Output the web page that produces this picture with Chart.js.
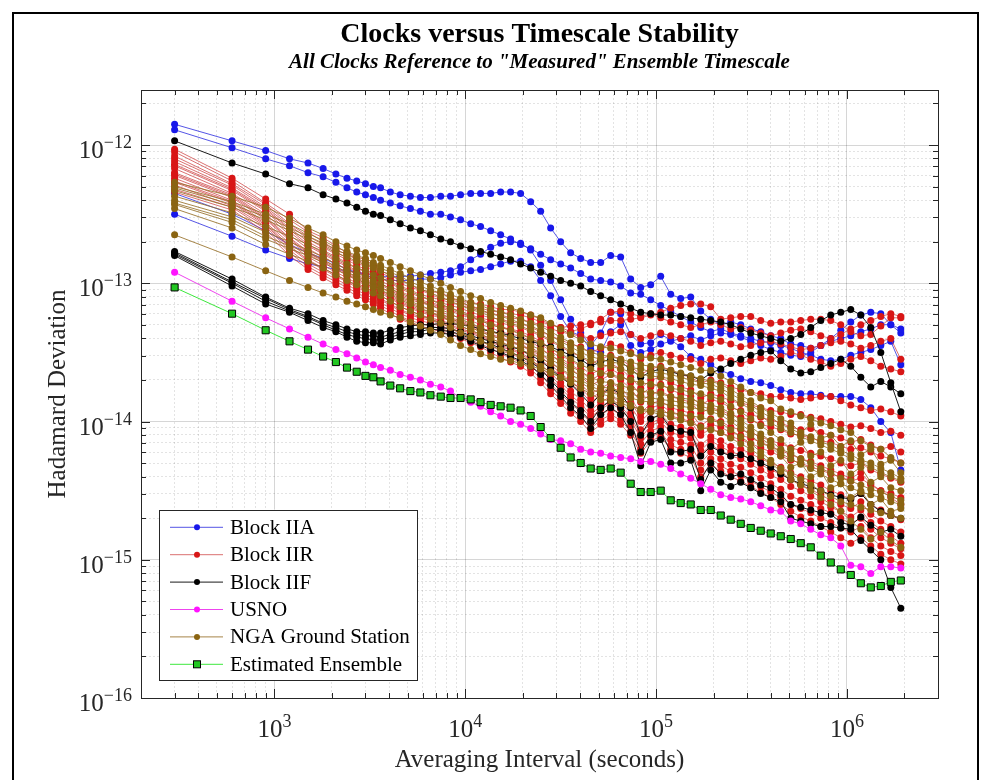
<!DOCTYPE html>
<html lang="en">
<head>
  <meta charset="UTF-8">
  <title>Clocks versus Timescale Stability</title>
  <script src="https://cdn.jsdelivr.net/npm/chart.js"></script>
  <style>
    html, body { margin: 0; padding: 0; background: #fff; }
    canvas { display: block; }
  </style>
</head>
<body>
  <canvas id="stabilityChart" width="991" height="780"></canvas>

  <script>
    // Averaging intervals (seconds) shared by every curve
    const tau = [300, 600, 900, 1200, 1500, 1800, 2100, 2400, 2700, 3000, 3300, 3600,
      4050, 4560, 5160, 5820, 6570, 7440, 8370, 9450, 10680, 12030, 13590, 15330,
      17280, 19500, 22020, 24840, 28020, 31620, 35670, 40260, 45420, 51240, 57810, 65220,
      73590, 83040, 93690, 105720, 119280, 134580, 151860, 171330, 193320, 218100, 246090, 277680,
      313200, 353400, 398700, 450000, 507600, 572700, 646200, 729300, 822600, 928200, 1047300, 1182300,
      1333200, 1504500, 1697400, 1915200];

    // Hadamard deviation curves, stored as log10 of the value
    // Block IIA
    const iia1 = [-11.85,-11.97,-12.04,-12.10,-12.13,-12.17,-12.21,-12.24, -12.26,-12.28,-12.30,-12.31,-12.34,-12.36,-12.37,-12.38,
      -12.38,-12.37,-12.37,-12.36,-12.35,-12.35,-12.35,-12.34, -12.34,-12.35,-12.41,-12.48,-12.60,-12.70,-12.78,-12.82,
      -12.85,-12.85,-12.80,-12.81,-12.97,-13.03,-13.01,-12.95, -13.08,-13.11,-13.10,-13.20,-13.26,-13.30,-13.28,-13.30,
      -13.33,-13.35,-13.38,-13.40,-13.44,-13.45,-13.47,-13.45, -13.42,-13.40,-13.38,-13.35,-13.33,-13.30,-13.30,-13.33];
    const iia2 = [-11.89,-12.02,-12.10,-12.15,-12.20,-12.23,-12.27,-12.31, -12.34,-12.36,-12.38,-12.40,-12.42,-12.44,-12.46,-12.48,
      -12.50,-12.50,-12.52,-12.54,-12.57,-12.59,-12.62,-12.65, -12.68,-12.72,-12.75,-12.79,-12.83,-12.86,-12.89,-12.93,
      -12.97,-12.98,-12.99,-13.02,-13.07,-13.08,-13.12,-13.16, -13.20,-13.24,-13.28,-13.32,-13.35,-13.33,-13.36,-13.38,
      -13.40,-13.42,-13.43,-13.45,-13.47,-13.50,-13.52,-13.55, -13.56,-13.55,-13.52,-13.50,-13.48,-13.45,-13.42,-13.59];
    const iia3 = [-12.50,-12.66,-12.76,-12.82,-12.86,-12.88,-12.90,-12.91, -12.92,-12.93,-12.94,-12.95,-12.95,-12.95,-12.95,-12.94,
      -12.93,-12.92,-12.91,-12.88,-12.83,-12.79,-12.74,-12.71, -12.70,-12.71,-12.76,-12.87,-12.98,-13.12,-13.26,-13.36,
      -13.45,-13.36,-13.21,-13.22,-13.37,-13.44,-13.43,-13.37, -13.41,-13.46,-13.53,-13.55,-13.59,-13.63,-13.66,-13.69,
      -13.71,-13.72,-13.74,-13.77,-13.79,-13.80,-13.80,-13.81, -13.82,-13.82,-13.82,-13.84,-13.90,-14.00,-14.08,-14.35];
    const iia4 = [-12.35,-12.50,-12.62,-12.72,-12.78,-12.82,-12.86,-12.90, -12.92,-12.94,-12.96,-12.97,-12.98,-12.98,-12.98,-12.97,
      -12.97,-12.96,-12.94,-12.92,-12.91,-12.90,-12.88,-12.86, -12.84,-12.84,-12.88,-12.98,-13.09,-13.24,-13.35,-13.38,
      -13.48,-13.50,-13.35,-13.30,-13.45,-13.50,-13.48,-13.44, -13.42,-13.40,-13.38,-13.41,-13.38,-13.36,-13.37,-13.39,
      -13.42,-13.45,-13.48,-13.50,-13.52,-13.53,-13.50,-13.45, -13.40,-13.34,-13.28,-13.23,-13.21,-13.22,-13.30,-13.36];

    // Block IIR
    const iir1 = [-12.03,-12.24,-12.39,-12.50,-12.62,-12.67,-12.73,-12.78, -12.81,-12.83,-12.87,-12.91,-12.94,-12.97,-13.01,-13.05,
      -13.06,-13.07,-13.10,-13.13,-13.14,-13.15,-13.17,-13.19, -13.19,-13.21,-13.23,-13.26,-13.30,-13.32,-13.31,-13.30,
      -13.29,-13.28,-13.27,-13.27,-13.26,-13.25,-13.23,-13.21, -13.18,-13.16,-13.15,-13.15,-13.17,-13.26,-13.25,-13.24,
      -13.24,-13.27,-13.29,-13.28,-13.28,-13.27,-13.26,-13.26, -13.27,-13.30,-13.35,-13.38,-13.37,-13.31,-13.25,-13.25];
    const iir2 = [-12.05,-12.26,-12.42,-12.54,-12.63,-12.70,-12.76,-12.79, -12.83,-12.86,-12.88,-12.92,-12.96,-13.00,-13.03,-13.05,
      -13.08,-13.11,-13.12,-13.14,-13.17,-13.18,-13.20,-13.21, -13.22,-13.23,-13.25,-13.28,-13.30,-13.32,-13.35,-13.33,
      -13.30,-13.26,-13.21,-13.20,-13.22,-13.24,-13.22,-13.25, -13.28,-13.30,-13.32,-13.30,-13.28,-13.30,-13.33,-13.32,
      -13.34,-13.36,-13.38,-13.36,-13.34,-13.33,-13.35,-13.38, -13.40,-13.37,-13.33,-13.30,-13.27,-13.24,-13.22,-13.24];
    const iir3 = [-12.08,-12.28,-12.43,-12.57,-12.66,-12.72,-12.77,-12.82, -12.85,-12.88,-12.91,-12.94,-12.98,-13.02,-13.05,-13.08,
      -13.10,-13.12,-13.14,-13.16,-13.18,-13.20,-13.22,-13.23, -13.25,-13.26,-13.28,-13.30,-13.33,-13.35,-13.37,-13.38,
      -13.40,-13.38,-13.36,-13.35,-13.37,-13.40,-13.38,-13.36, -13.38,-13.40,-13.42,-13.45,-13.43,-13.42,-13.44,-13.46,
      -13.45,-13.43,-13.42,-13.44,-13.46,-13.48,-13.47,-13.45, -13.43,-13.42,-13.44,-13.47,-13.45,-13.42,-13.40,-13.55];
    const iir4 = [-12.10,-12.29,-12.45,-12.58,-12.68,-12.74,-12.79,-12.83, -12.87,-12.90,-12.93,-12.96,-13.00,-13.04,-13.07,-13.10,
      -13.12,-13.14,-13.16,-13.18,-13.21,-13.23,-13.25,-13.26, -13.28,-13.29,-13.32,-13.35,-13.38,-13.41,-13.44,-13.46,
      -13.50,-13.47,-13.44,-13.46,-13.50,-13.55,-13.52,-13.50, -13.52,-13.54,-13.55,-13.58,-13.55,-13.54,-13.56,-13.58,
      -13.56,-13.54,-13.55,-13.53,-13.50,-13.52,-13.55,-13.57, -13.60,-13.58,-13.55,-13.53,-13.56,-13.60,-13.62,-13.64];
    const iir5 = [-12.12,-12.31,-12.46,-12.60,-12.70,-12.76,-12.81,-12.85, -12.89,-12.92,-12.95,-12.98,-13.02,-13.06,-13.09,-13.12,
      -13.14,-13.16,-13.18,-13.20,-13.23,-13.25,-13.27,-13.29, -13.30,-13.32,-13.35,-13.38,-13.42,-13.46,-13.50,-13.53,
      -13.58,-13.55,-13.52,-13.55,-13.60,-13.66,-13.62,-13.60, -13.63,-13.66,-13.68,-13.72,-13.70,-13.72,-13.75,-13.77,
      -13.79,-13.80,-13.82,-13.82,-13.83,-13.84,-13.83,-13.82, -13.82,-13.85,-13.88,-13.90,-13.92,-13.91,-13.93,-13.96];
    const iir6 = [-12.15,-12.33,-12.48,-12.63,-12.73,-12.79,-12.84,-12.88, -12.92,-12.95,-12.98,-13.01,-13.05,-13.09,-13.12,-13.14,
      -13.16,-13.18,-13.20,-13.23,-13.25,-13.27,-13.30,-13.32, -13.33,-13.35,-13.38,-13.42,-13.47,-13.52,-13.56,-13.60,
      -13.66,-13.62,-13.58,-13.62,-13.68,-13.76,-13.70,-13.68, -13.72,-13.75,-13.77,-13.83,-13.80,-13.82,-13.85,-13.87,
      -13.88,-13.90,-13.92,-13.93,-13.95,-13.95,-13.97,-13.98, -14.00,-14.02,-14.04,-14.03,-14.05,-14.08,-14.07,-14.10];
    const iir7 = [-12.17,-12.35,-12.50,-12.65,-12.75,-12.81,-12.86,-12.90, -12.94,-12.97,-13.00,-13.03,-13.07,-13.11,-13.14,-13.17,
      -13.19,-13.21,-13.23,-13.25,-13.27,-13.30,-13.32,-13.35, -13.37,-13.38,-13.42,-13.47,-13.52,-13.57,-13.62,-13.67,
      -13.74,-13.70,-13.66,-13.70,-13.76,-13.86,-13.80,-13.78, -13.82,-13.84,-13.86,-13.94,-13.90,-13.92,-13.95,-13.97,
      -13.99,-14.02,-14.04,-14.06,-14.09,-14.10,-14.12,-14.14, -14.15,-14.18,-14.20,-14.19,-14.22,-14.25,-14.27,-14.30];
    const iir8 = [-12.20,-12.36,-12.52,-12.67,-12.77,-12.83,-12.88,-12.92, -12.96,-12.99,-13.02,-13.05,-13.09,-13.13,-13.16,-13.19,
      -13.21,-13.23,-13.25,-13.27,-13.30,-13.32,-13.35,-13.37, -13.40,-13.42,-13.46,-13.51,-13.57,-13.62,-13.68,-13.73,
      -13.80,-13.76,-13.72,-13.76,-13.83,-13.94,-13.87,-13.85, -13.90,-13.92,-13.94,-14.03,-13.98,-14.00,-14.04,-14.06,
      -14.08,-14.11,-14.14,-14.16,-14.19,-14.21,-14.23,-14.25, -14.27,-14.30,-14.32,-14.30,-14.35,-14.38,-14.41,-14.44];
    const iir9 = [-12.22,-12.38,-12.54,-12.69,-12.79,-12.85,-12.90,-12.94, -12.98,-13.01,-13.04,-13.07,-13.11,-13.15,-13.18,-13.21,
      -13.23,-13.25,-13.27,-13.29,-13.32,-13.35,-13.38,-13.40, -13.43,-13.45,-13.49,-13.55,-13.61,-13.67,-13.73,-13.78,
      -13.86,-13.81,-13.77,-13.81,-13.89,-14.00,-13.93,-13.90, -13.96,-13.98,-14.00,-14.10,-14.05,-14.08,-14.11,-14.13,
      -14.16,-14.19,-14.22,-14.25,-14.28,-14.30,-14.33,-14.35, -14.38,-14.40,-14.43,-14.41,-14.46,-14.50,-14.52,-14.55];
    const iir10 = [-12.24,-12.40,-12.56,-12.71,-12.81,-12.87,-12.92,-12.96, -13.00,-13.03,-13.06,-13.09,-13.13,-13.17,-13.20,-13.23,
      -13.25,-13.27,-13.29,-13.31,-13.34,-13.37,-13.40,-13.43, -13.45,-13.48,-13.53,-13.59,-13.65,-13.72,-13.78,-13.84,
      -13.92,-13.86,-13.82,-13.86,-13.94,-14.06,-13.98,-13.95, -14.02,-14.04,-14.06,-14.17,-14.11,-14.14,-14.18,-14.20,
      -14.23,-14.27,-14.30,-14.33,-14.37,-14.40,-14.43,-14.46, -14.50,-14.53,-14.56,-14.52,-14.60,-14.64,-14.68,-14.71];
    const iir11 = [-12.27,-12.42,-12.58,-12.74,-12.84,-12.90,-12.95,-12.99, -13.03,-13.06,-13.09,-13.12,-13.16,-13.20,-13.23,-13.25,
      -13.27,-13.29,-13.31,-13.34,-13.36,-13.39,-13.42,-13.46, -13.48,-13.51,-13.56,-13.62,-13.69,-13.76,-13.83,-13.89,
      -13.97,-13.91,-13.87,-13.91,-13.99,-14.12,-14.03,-14.00, -14.08,-14.10,-14.12,-14.24,-14.17,-14.21,-14.25,-14.27,
      -14.31,-14.35,-14.39,-14.42,-14.47,-14.50,-14.54,-14.58, -14.62,-14.65,-14.69,-14.64,-14.73,-14.78,-14.83,-14.88];
    const iir12 = [-12.29,-12.44,-12.59,-12.76,-12.86,-12.92,-12.97,-13.01, -13.05,-13.08,-13.11,-13.14,-13.18,-13.22,-13.25,-13.27,
      -13.29,-13.31,-13.33,-13.36,-13.39,-13.42,-13.45,-13.49, -13.51,-13.54,-13.59,-13.66,-13.73,-13.80,-13.87,-13.93,
      -14.01,-13.95,-13.91,-13.95,-14.03,-14.16,-14.07,-14.04, -14.13,-14.15,-14.17,-14.30,-14.22,-14.27,-14.31,-14.33,
      -14.37,-14.41,-14.45,-14.49,-14.54,-14.57,-14.60,-14.63, -14.66,-14.70,-14.74,-14.70,-14.78,-14.84,-14.88,-14.92];
    const iir13 = [-12.32,-12.45,-12.61,-12.78,-12.88,-12.94,-12.99,-13.03, -13.07,-13.10,-13.13,-13.16,-13.20,-13.24,-13.27,-13.29,
      -13.31,-13.33,-13.35,-13.38,-13.41,-13.44,-13.47,-13.51, -13.54,-13.57,-13.62,-13.69,-13.77,-13.84,-13.91,-13.97,
      -14.05,-13.99,-13.95,-13.99,-14.07,-14.20,-14.11,-14.08, -14.17,-14.20,-14.22,-14.35,-14.27,-14.32,-14.36,-14.39,
      -14.43,-14.47,-14.51,-14.55,-14.60,-14.63,-14.66,-14.70, -14.73,-14.77,-14.80,-14.76,-14.84,-14.90,-14.94,-14.97];
    const iir14 = [-12.34,-12.47,-12.63,-12.80,-12.90,-12.96,-13.01,-13.05, -13.09,-13.12,-13.15,-13.18,-13.22,-13.26,-13.29,-13.31,
      -13.33,-13.35,-13.37,-13.40,-13.43,-13.46,-13.50,-13.54, -13.57,-13.60,-13.65,-13.72,-13.80,-13.87,-13.94,-14.00,
      -14.08,-14.02,-13.98,-14.02,-14.10,-14.23,-14.14,-14.11, -14.20,-14.23,-14.26,-14.40,-14.31,-14.36,-14.40,-14.43,
      -14.47,-14.51,-14.55,-14.60,-14.65,-14.69,-14.72,-14.76, -14.80,-14.84,-14.88,-14.84,-14.90,-14.96,-15.00,-15.03];
    const iir15 = [-12.14,-12.32,-12.47,-12.61,-12.72,-12.78,-12.83,-12.87, -12.91,-12.94,-12.97,-13.00,-13.04,-13.08,-13.11,-13.13,
      -13.15,-13.17,-13.19,-13.22,-13.24,-13.26,-13.29,-13.31, -13.34,-13.36,-13.40,-13.44,-13.49,-13.54,-13.59,-13.63,
      -13.70,-13.66,-13.62,-13.66,-13.72,-13.81,-13.75,-13.73, -13.77,-13.80,-13.82,-13.88,-13.84,-13.86,-13.90,-13.92,
      -13.95,-13.97,-13.99,-14.01,-14.04,-14.06,-14.05,-14.08, -14.10,-14.12,-14.15,-14.13,-14.17,-14.20,-14.18,-14.22];
    const iir16 = [-12.21,-12.37,-12.53,-12.68,-12.78,-12.84,-12.89,-12.93, -12.97,-13.00,-13.03,-13.06,-13.10,-13.14,-13.17,-13.20,
      -13.22,-13.24,-13.26,-13.28,-13.31,-13.34,-13.37,-13.39, -13.42,-13.44,-13.48,-13.53,-13.59,-13.65,-13.71,-13.76,
      -13.83,-13.79,-13.75,-13.79,-13.86,-13.97,-13.90,-13.88, -13.93,-13.95,-13.97,-14.07,-14.02,-14.04,-14.08,-14.10,
      -14.12,-14.15,-14.18,-14.21,-14.24,-14.27,-14.29,-14.32, -14.35,-14.38,-14.41,-14.37,-14.45,-14.50,-14.55,-14.60];
    const iir17 = [-12.26,-12.41,-12.57,-12.73,-12.83,-12.89,-12.94,-12.98, -13.02,-13.05,-13.08,-13.11,-13.15,-13.19,-13.22,-13.24,
      -13.26,-13.28,-13.30,-13.33,-13.35,-13.38,-13.41,-13.45, -13.47,-13.50,-13.55,-13.61,-13.67,-13.74,-13.81,-13.87,
      -13.95,-13.89,-13.85,-13.89,-13.97,-14.09,-14.01,-13.98, -14.05,-14.07,-14.09,-14.21,-14.14,-14.18,-14.22,-14.24,
      -14.27,-14.31,-14.35,-14.38,-14.42,-14.46,-14.49,-14.53, -14.57,-14.60,-14.63,-14.58,-14.67,-14.72,-14.76,-14.80];

    // Block IIF
    const iif1 = [-11.97,-12.13,-12.21,-12.28,-12.31,-12.36,-12.39,-12.42, -12.45,-12.48,-12.50,-12.51,-12.54,-12.57,-12.60,-12.62,
      -12.65,-12.68,-12.70,-12.73,-12.75,-12.77,-12.79,-12.81, -12.83,-12.86,-12.89,-12.92,-12.95,-12.98,-13.00,-13.02,
      -13.06,-13.09,-13.12,-13.15,-13.18,-13.21,-13.22,-13.23, -13.23,-13.24,-13.25,-13.26,-13.27,-13.28,-13.30,-13.33,
      -13.36,-13.38,-13.40,-13.42,-13.40,-13.37,-13.32,-13.27, -13.23,-13.21,-13.19,-13.23,-13.32,-13.50,-13.72,-13.93];
    const iif2 = [-12.77,-12.97,-13.10,-13.18,-13.22,-13.27,-13.30,-13.33, -13.35,-13.35,-13.36,-13.36,-13.34,-13.32,-13.31,-13.30,
      -13.30,-13.29,-13.29,-13.30,-13.31,-13.33,-13.35,-13.36, -13.38,-13.40,-13.42,-13.44,-13.46,-13.49,-13.52,-13.55,
      -13.60,-13.57,-13.55,-13.57,-13.62,-13.68,-13.64,-13.62, -13.64,-13.66,-13.67,-13.70,-13.65,-13.62,-13.58,-13.55,
      -13.52,-13.50,-13.49,-13.56,-13.62,-13.65,-13.64,-13.61, -13.58,-13.55,-13.60,-13.68,-13.75,-13.71,-13.75,-13.80];
    const iif3 = [-12.78,-12.99,-13.11,-13.19,-13.24,-13.29,-13.32,-13.35, -13.37,-13.38,-13.38,-13.39,-13.37,-13.35,-13.33,-13.33,
      -13.32,-13.32,-13.33,-13.35,-13.38,-13.40,-13.42,-13.44, -13.46,-13.48,-13.52,-13.56,-13.62,-13.68,-13.73,-13.80,
      -13.88,-13.80,-13.76,-13.80,-13.90,-14.10,-13.98,-13.95, -14.05,-14.07,-14.08,-14.25,-14.18,-14.22,-14.25,-14.24,
      -14.27,-14.30,-14.33,-14.38,-14.42,-14.45,-14.47,-14.50, -14.53,-14.55,-14.56,-14.52,-14.60,-14.65,-14.68,-14.70];
    const iif4 = [-12.79,-13.00,-13.13,-13.20,-13.25,-13.30,-13.34,-13.37, -13.39,-13.40,-13.41,-13.41,-13.39,-13.37,-13.35,-13.35,
      -13.33,-13.34,-13.35,-13.37,-13.40,-13.42,-13.44,-13.47, -13.50,-13.53,-13.57,-13.62,-13.70,-13.78,-13.86,-13.92,
      -14.00,-13.90,-13.85,-13.90,-14.00,-14.22,-14.10,-14.07, -14.22,-14.22,-14.20,-14.42,-14.30,-14.38,-14.40,-14.38,
      -14.42,-14.46,-14.48,-14.53,-14.60,-14.62,-14.64,-14.66, -14.67,-14.73,-14.75,-14.69,-14.75,-14.80,-14.78,-14.83];
    const iif5 = [-12.80,-13.02,-13.15,-13.21,-13.27,-13.32,-13.35,-13.39, -13.42,-13.43,-13.43,-13.44,-13.41,-13.39,-13.38,-13.37,
      -13.36,-13.36,-13.37,-13.39,-13.42,-13.45,-13.48,-13.50, -13.53,-13.56,-13.60,-13.66,-13.74,-13.82,-13.90,-13.96,
      -14.05,-13.95,-13.90,-13.95,-14.08,-14.32,-14.15,-14.13, -14.30,-14.30,-14.28,-14.50,-14.35,-14.44,-14.47,-14.44,
      -14.48,-14.52,-14.55,-14.58,-14.70,-14.72,-14.74,-14.76, -14.76,-14.77,-14.78,-14.86,-14.93,-15.00,-15.20,-15.35];

    // USNO
    const usno = [-12.92,-13.13,-13.25,-13.33,-13.39,-13.44,-13.48,-13.51, -13.54,-13.57,-13.59,-13.61,-13.63,-13.66,-13.68,-13.70,
      -13.73,-13.75,-13.78,-13.83,-13.86,-13.89,-13.93,-13.96, -14.00,-14.02,-14.05,-14.09,-14.13,-14.14,-14.16,-14.20,
      -14.22,-14.23,-14.25,-14.26,-14.27,-14.29,-14.29,-14.31, -14.34,-14.38,-14.41,-14.45,-14.49,-14.53,-14.55,-14.56,
      -14.58,-14.61,-14.64,-14.65,-14.72,-14.74,-14.78,-14.82, -14.84,-14.90,-15.04,-15.05,-15.10,-15.05,-15.05,-15.06];

    // NGA ground stations
    const nga1 = [-12.27,-12.37,-12.45,-12.53,-12.60,-12.65,-12.70,-12.73, -12.76,-12.78,-12.80,-12.82,-12.85,-12.88,-12.91,-12.94,
      -12.97,-13.00,-13.03,-13.06,-13.09,-13.11,-13.14,-13.16, -13.18,-13.20,-13.23,-13.25,-13.29,-13.33,-13.37,-13.41,
      -13.44,-13.46,-13.47,-13.49,-13.51,-13.53,-13.54,-13.55, -13.57,-13.59,-13.61,-13.63,-13.63,-13.67,-13.71,-13.75,
      -13.79,-13.83,-13.85,-13.91,-13.93,-13.96,-13.98,-14.01, -14.03,-14.06,-14.08,-14.14,-14.18,-14.20,-14.26,-14.30];
    const nga2 = [-12.30,-12.41,-12.50,-12.57,-12.64,-12.69,-12.74,-12.77, -12.80,-12.82,-12.85,-12.87,-12.90,-12.93,-12.96,-12.99,
      -13.02,-13.05,-13.08,-13.11,-13.14,-13.16,-13.19,-13.21, -13.23,-13.26,-13.29,-13.31,-13.35,-13.39,-13.43,-13.47,
      -13.50,-13.52,-13.53,-13.55,-13.57,-13.59,-13.60,-13.61, -13.63,-13.65,-13.67,-13.69,-13.71,-13.73,-13.77,-13.81,
      -13.85,-13.90,-13.94,-13.98,-14.01,-14.08,-14.02,-14.12, -14.10,-14.18,-14.14,-14.24,-14.20,-14.31,-14.28,-14.37];
    const nga3 = [-12.33,-12.45,-12.54,-12.62,-12.68,-12.73,-12.78,-12.81, -12.84,-12.87,-12.89,-12.91,-12.94,-12.98,-13.01,-13.04,
      -13.07,-13.10,-13.13,-13.16,-13.19,-13.21,-13.24,-13.27, -13.29,-13.31,-13.34,-13.37,-13.41,-13.45,-13.49,-13.53,
      -13.56,-13.59,-13.60,-13.62,-13.64,-13.66,-13.67,-13.68, -13.69,-13.71,-13.73,-13.74,-13.76,-13.78,-13.83,-13.87,
      -13.91,-13.96,-14.01,-14.05,-14.08,-14.11,-14.14,-14.17, -14.20,-14.23,-14.27,-14.30,-14.33,-14.37,-14.40,-14.43];
    const nga4 = [-12.37,-12.49,-12.59,-12.66,-12.72,-12.77,-12.82,-12.86, -12.89,-12.91,-12.94,-12.96,-12.99,-13.03,-13.06,-13.09,
      -13.12,-13.15,-13.18,-13.21,-13.24,-13.27,-13.30,-13.32, -13.34,-13.37,-13.40,-13.43,-13.47,-13.51,-13.55,-13.59,
      -13.62,-13.65,-13.66,-13.68,-13.70,-13.72,-13.73,-13.74, -13.76,-13.77,-13.79,-13.80,-13.82,-13.84,-13.89,-13.93,
      -13.98,-14.03,-14.08,-14.13,-14.20,-14.15,-14.25,-14.22, -14.32,-14.28,-14.38,-14.33,-14.44,-14.40,-14.48,-14.50];
    const nga5 = [-12.40,-12.52,-12.63,-12.70,-12.76,-12.81,-12.86,-12.90, -12.93,-12.95,-12.98,-13.00,-13.04,-13.07,-13.10,-13.13,
      -13.16,-13.19,-13.22,-13.26,-13.29,-13.32,-13.35,-13.37, -13.39,-13.42,-13.45,-13.48,-13.52,-13.56,-13.60,-13.64,
      -13.68,-13.71,-13.72,-13.74,-13.76,-13.78,-13.79,-13.80, -13.82,-13.83,-13.84,-13.86,-13.88,-13.90,-13.94,-13.99,
      -14.04,-14.09,-14.14,-14.20,-14.23,-14.27,-14.30,-14.34, -14.37,-14.41,-14.43,-14.46,-14.49,-14.51,-14.54,-14.57];
    const nga6 = [-12.43,-12.56,-12.68,-12.75,-12.80,-12.85,-12.90,-12.94, -12.97,-13.00,-13.03,-13.05,-13.08,-13.12,-13.15,-13.18,
      -13.21,-13.24,-13.27,-13.31,-13.34,-13.37,-13.40,-13.43, -13.45,-13.48,-13.51,-13.54,-13.58,-13.62,-13.66,-13.70,
      -13.74,-13.78,-13.79,-13.81,-13.83,-13.85,-13.86,-13.87, -13.88,-13.89,-13.90,-13.91,-13.93,-13.95,-14.00,-14.05,
      -14.10,-14.16,-14.18,-14.25,-14.33,-14.30,-14.40,-14.36, -14.48,-14.45,-14.55,-14.50,-14.60,-14.56,-14.65,-14.63];
    const nga7 = [-12.46,-12.60,-12.72,-12.79,-12.84,-12.89,-12.94,-12.98, -13.01,-13.04,-13.07,-13.09,-13.13,-13.17,-13.20,-13.23,
      -13.26,-13.29,-13.32,-13.36,-13.39,-13.42,-13.45,-13.48, -13.50,-13.53,-13.56,-13.60,-13.64,-13.68,-13.72,-13.76,
      -13.80,-13.84,-13.85,-13.87,-13.89,-13.91,-13.92,-13.93, -13.94,-13.95,-13.96,-13.97,-13.99,-14.01,-14.06,-14.11,
      -14.16,-14.22,-14.28,-14.34,-14.38,-14.42,-14.46,-14.50, -14.54,-14.58,-14.60,-14.62,-14.64,-14.66,-14.68,-14.70];
    const nga8 = [-12.65,-12.81,-12.91,-12.98,-13.03,-13.07,-13.10,-13.13, -13.15,-13.17,-13.19,-13.21,-13.23,-13.25,-13.28,-13.31,
      -13.34,-13.37,-13.41,-13.45,-13.48,-13.51,-13.53,-13.55, -13.56,-13.58,-13.60,-13.62,-13.65,-13.68,-13.70,-13.72,
      -13.76,-13.80,-13.82,-13.84,-13.88,-13.92,-13.93,-13.95, -13.97,-13.99,-14.01,-14.04,-14.06,-14.08,-14.12,-14.16,
      -14.20,-14.25,-14.30,-14.36,-14.42,-14.46,-14.50,-14.55, -14.60,-14.65,-14.72,-14.78,-14.85,-14.80,-14.86,-14.91];
    const nga9 = [-12.31,-12.43,-12.52,-12.60,-12.66,-12.71,-12.76,-12.79, -12.82,-12.85,-12.87,-12.89,-12.92,-12.95,-12.99,-13.02,
      -13.05,-13.07,-13.11,-13.13,-13.17,-13.19,-13.22,-13.24, -13.26,-13.29,-13.31,-13.34,-13.38,-13.42,-13.46,-13.50,
      -13.53,-13.55,-13.57,-13.58,-13.61,-13.62,-13.64,-13.65, -13.66,-13.68,-13.70,-13.72,-13.73,-13.76,-13.80,-13.84,
      -13.88,-13.93,-13.97,-14.02,-14.05,-14.09,-14.11,-14.15, -14.17,-14.21,-14.24,-14.28,-14.30,-14.34,-14.37,-14.41];
    const nga10 = [-12.42,-12.54,-12.66,-12.73,-12.78,-12.83,-12.88,-12.92, -12.95,-12.98,-13.01,-13.03,-13.06,-13.10,-13.13,-13.16,
      -13.19,-13.22,-13.25,-13.29,-13.32,-13.35,-13.38,-13.40, -13.42,-13.45,-13.48,-13.51,-13.55,-13.59,-13.63,-13.67,
      -13.71,-13.75,-13.76,-13.78,-13.80,-13.82,-13.83,-13.84, -13.85,-13.86,-13.87,-13.89,-13.91,-13.93,-13.97,-14.02,
      -14.07,-14.12,-14.17,-14.23,-14.27,-14.31,-14.34,-14.38, -14.42,-14.45,-14.48,-14.51,-14.53,-14.55,-14.58,-14.60];

    // Estimated ensemble
    const ensemble = [-13.03,-13.22,-13.34,-13.42,-13.48,-13.53,-13.57,-13.61, -13.64,-13.67,-13.68,-13.71,-13.74,-13.76,-13.78,-13.79,
      -13.81,-13.82,-13.83,-13.83,-13.84,-13.86,-13.88,-13.89, -13.90,-13.92,-13.96,-14.04,-14.12,-14.19,-14.26,-14.30,
      -14.34,-14.35,-14.34,-14.37,-14.45,-14.51,-14.51,-14.50, -14.57,-14.59,-14.60,-14.64,-14.64,-14.68,-14.71,-14.74,
      -14.77,-14.79,-14.81,-14.83,-14.85,-14.88,-14.91,-14.97, -15.02,-15.07,-15.11,-15.17,-15.20,-15.19,-15.16,-15.15];

    const groups = [
      { label: 'Block IIA', curves: [iia1, iia2, iia3, iia4] },
      { label: 'Block IIR', curves: [iir1, iir2, iir3, iir4, iir5, iir6, iir7, iir8, iir9, iir10, iir11, iir12, iir13, iir14, iir15, iir16, iir17] },
      { label: 'Block IIF', curves: [iif1, iif2, iif3, iif4, iif5] },
      { label: 'USNO', curves: [usno] },
      { label: 'NGA Ground Station', curves: [nga1, nga2, nga3, nga4, nga5, nga6, nga7, nga8, nga9, nga10] },
      { label: 'Estimated Ensemble', curves: [ensemble] }
    ];

    // axis limits and labelled decades
    const xMin = 200, xMax = 3e6;
    const yMin = 1e-16, yMax = 2.5e-12;
    const xMajorExps = [3, 4, 5, 6];
    const yMajorExps = [-16, -15, -14, -13, -12];

    const styles = {
      'Block IIA': { line: 'rgba(55,55,225,0.85)', point: '#1818ea', order: 5 },
      'Block IIR': { line: 'rgba(205,65,65,0.75)', point: '#d81616', order: 4 },
      'Block IIF': { line: '#1a1a1a', point: '#000000', order: 3 },
      'USNO': { line: '#ee44ee', point: '#ff14ff', order: 2 },
      'NGA Ground Station': { line: 'rgba(150,112,40,0.85)', point: '#8a6412', order: 1 },
      'Estimated Ensemble': { line: '#3ee83e', point: '#22c822', edge: '#000000', shape: 'rect', radius: 5, order: 0 }
    };

    const serif = "'Liberation Serif', 'Times New Roman', serif";

    function toPoints(logs) {
      return logs.map((v, i) => ({ x: tau[i], y: Math.pow(10, v) }));
    }

    const datasets = [];
    groups.forEach(g => {
      const s = styles[g.label];
      g.curves.forEach(c => {
        datasets.push({
          label: g.label,
          data: toPoints(c),
          borderColor: s.line,
          backgroundColor: s.point,
          borderWidth: 1,
          pointStyle: s.shape || 'circle',
          pointRadius: s.radius || 3.5,
          pointBackgroundColor: s.point,
          pointBorderColor: s.edge || s.point,
          pointBorderWidth: s.edge ? 1 : 0,
          tension: 0,
          fill: false,
          order: s.order
        });
      });
    });

    function logTicks(lo, hi, min, max) {
      const out = [];
      for (let e = lo; e <= hi; e++) {
        for (let m = 1; m <= 9; m++) {
          const v = m * Math.pow(10, e);
          if (v >= min * 0.999 && v <= max * 1.001) out.push(v);
        }
      }
      return out;
    }
    const xTicks = logTicks(2, 6, xMin, xMax);
    const yTicks = logTicks(-16, -12, yMin, yMax);

    function isMajor(v) {
      const l = Math.log10(v);
      return Math.abs(l - Math.round(l)) < 1e-6;
    }

    const gridColor = ctx => (ctx.tick && isMajor(ctx.tick.value)) ? 'rgba(0,0,0,0.16)' : 'rgba(0,0,0,0.11)';
    const gridDash = ctx => (ctx.tick && isMajor(ctx.tick.value)) ? [] : [2, 2];

    // white page with the figure frame
    const pageFrame = {
      id: 'pageFrame',
      beforeDraw(chart) {
        const c = chart.ctx;
        c.save();
        c.fillStyle = '#fff';
        c.fillRect(0, 0, chart.width, chart.height);
        c.strokeStyle = '#000';
        c.lineWidth = 2;
        c.beginPath();
        c.moveTo(13, chart.height + 4);
        c.lineTo(13, 13);
        c.lineTo(978, 13);
        c.lineTo(978, chart.height + 4);
        c.stroke();
        c.restore();
      }
    };

    // MATLAB style box, inward ticks, tick labels with exponents and axis titles
    const axesBox = {
      id: 'axesBox',
      afterDatasetsDraw(chart) {
        const { ctx, chartArea: a, scales: { x, y } } = chart;
        ctx.save();
        ctx.strokeStyle = '#262626';
        ctx.lineWidth = 1;
        ctx.beginPath();
        xTicks.forEach(v => {
          const p = Math.round(x.getPixelForValue(v)) + 0.5;
          const len = isMajor(v) ? 9 : 5;
          ctx.moveTo(p, a.bottom); ctx.lineTo(p, a.bottom - len);
          ctx.moveTo(p, a.top); ctx.lineTo(p, a.top + len);
        });
        yTicks.forEach(v => {
          const p = Math.round(y.getPixelForValue(v)) + 0.5;
          const len = isMajor(v) ? 9 : 5;
          ctx.moveTo(a.left, p); ctx.lineTo(a.left + len, p);
          ctx.moveTo(a.right, p); ctx.lineTo(a.right - len, p);
        });
        ctx.stroke();
        ctx.strokeRect(Math.round(a.left) + 0.5, Math.round(a.top) + 0.5, Math.round(a.right - a.left), Math.round(a.bottom - a.top));
        ctx.restore();
      },
      afterDraw(chart) {
        const { ctx, chartArea: a, scales: { x, y } } = chart;
        const baseFont = '25px ' + serif;
        const expFont = '18px ' + serif;
        ctx.save();
        ctx.fillStyle = '#262626';
        ctx.textBaseline = 'alphabetic';
        ctx.textAlign = 'left';
        xMajorExps.forEach(e => {
          const p = x.getPixelForValue(Math.pow(10, e));
          ctx.font = baseFont;
          const w1 = ctx.measureText('10').width;
          ctx.font = expFont;
          const w2 = ctx.measureText(String(e)).width;
          const left = p - (w1 + w2) / 2;
          ctx.font = baseFont;
          ctx.fillText('10', left, a.bottom + 39);
          ctx.font = expFont;
          ctx.fillText(String(e), left + w1, a.bottom + 29);
        });
        yMajorExps.forEach(e => {
          const p = y.getPixelForValue(Math.pow(10, e));
          const exp = String(e).replace('-', '\u2212');
          ctx.font = expFont;
          const w2 = ctx.measureText(exp).width;
          ctx.font = baseFont;
          const w1 = ctx.measureText('10').width;
          const right = a.left - 9;
          ctx.fillText('10', right - w2 - w1, p + 13);
          ctx.font = expFont;
          ctx.fillText(exp, right - w2, p + 3);
        });
        ctx.font = '25px ' + serif;
        ctx.textAlign = 'center';
        ctx.fillText('Averaging Interval (seconds)', (a.left + a.right) / 2, a.bottom + 69);
        ctx.translate(a.left - 76, (a.top + a.bottom) / 2);
        ctx.rotate(-Math.PI / 2);
        ctx.fillText('Hadamard Deviation', 0, 0);
        ctx.restore();
      }
    };

    // legend box inside the lower left of the axes
    const insideLegend = {
      id: 'insideLegend',
      afterDraw(chart) {
        const { ctx, chartArea: a } = chart;
        const rowH = 27.4;
        const w = 258, h = 6 + rowH * groups.length;
        const left = a.left + 18, top = a.bottom - 18 - h;
        ctx.save();
        ctx.fillStyle = '#fff';
        ctx.fillRect(left, top, w, h);
        ctx.strokeStyle = '#262626';
        ctx.lineWidth = 1;
        ctx.strokeRect(Math.round(left) + 0.5, Math.round(top) + 0.5, w, Math.round(h));
        ctx.font = '21px ' + serif;
        ctx.textBaseline = 'middle';
        ctx.textAlign = 'left';
        groups.forEach((g, i) => {
          const s = styles[g.label];
          const cy = top + 4 + rowH * (i + 0.5);
          ctx.strokeStyle = s.line;
          ctx.beginPath();
          ctx.moveTo(left + 11, cy);
          ctx.lineTo(left + 64, cy);
          ctx.stroke();
          ctx.fillStyle = s.point;
          if (s.shape === 'rect') {
            ctx.fillRect(left + 34.5, cy - 3.5, 7, 7);
            ctx.strokeStyle = s.edge;
            ctx.strokeRect(left + 34.5, cy - 3.5, 7, 7);
          } else {
            ctx.beginPath();
            ctx.arc(left + 38, cy, 3, 0, Math.PI * 2);
            ctx.fill();
          }
          ctx.fillStyle = '#000';
          ctx.fillText(g.label, left + 71, cy + 1);
        });
        ctx.restore();
      }
    };

    const ctx = document.getElementById('stabilityChart').getContext('2d');
    const stabilityChart = new Chart(ctx, {
      type: 'line',
      data: { datasets },
      plugins: [pageFrame, axesBox, insideLegend],
      options: {
        responsive: false,
        animation: false,
        devicePixelRatio: 1,
        layout: { padding: { left: 141, right: 53, top: 0, bottom: 82 } },
        plugins: {
          legend: { display: false },
          tooltip: { enabled: false },
          title: {
            display: true,
            text: 'Clocks versus Timescale Stability',
            color: '#000',
            font: { family: serif, size: 28, weight: 'bold', lineHeight: 1.0 },
            padding: { top: 21, bottom: 0 }
          },
          subtitle: {
            display: true,
            text: 'All Clocks Reference to "Measured" Ensemble Timescale',
            color: '#000',
            font: { family: serif, size: 21, weight: 'bold', style: 'italic', lineHeight: 1.0 },
            padding: { top: 3, bottom: 17 }
          }
        },
        scales: {
          x: {
            type: 'logarithmic',
            min: xMin,
            max: xMax,
            afterBuildTicks: s => { s.ticks = xTicks.map(v => ({ value: v, major: isMajor(v) })); },
            ticks: { display: false },
            grid: { color: gridColor, drawTicks: false, lineWidth: 1 },
            border: { display: false, dash: gridDash }
          },
          y: {
            type: 'logarithmic',
            min: yMin,
            max: yMax,
            afterBuildTicks: s => { s.ticks = yTicks.map(v => ({ value: v, major: isMajor(v) })); },
            ticks: { display: false },
            grid: { color: gridColor, drawTicks: false, lineWidth: 1 },
            border: { display: false, dash: gridDash }
          }
        }
      }
    });
  </script>
</body>
</html>
